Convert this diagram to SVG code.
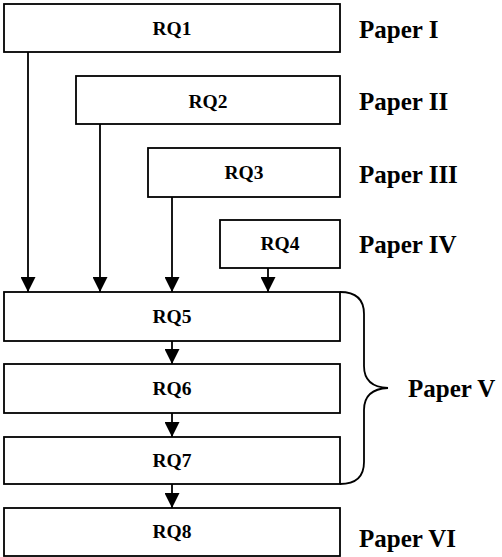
<svg xmlns="http://www.w3.org/2000/svg" width="502" height="557" viewBox="0 0 502 557">
<style>
.box{fill:#fff;stroke:#000;stroke-width:1.8}
.rq{font-family:"Liberation Serif","Times New Roman",serif;font-weight:bold;font-size:19.5px;text-anchor:middle;fill:#000}
.pp{font-family:"Liberation Serif","Times New Roman",serif;font-weight:bold;font-size:25px;fill:#000}
.ln{fill:none;stroke:#000;stroke-width:1.8}
</style>
<defs>
<marker id="ah" viewBox="0 0 15 15" refX="15" refY="7.5" markerWidth="15" markerHeight="15" markerUnits="userSpaceOnUse" orient="auto">
<path d="M0,0 L15,7.5 L0,15 Z" fill="#000"/>
</marker>
</defs>
<rect width="502" height="557" fill="#fff"/>
<g id="connectors">
<line class="ln" x1="28" y1="52" x2="28" y2="292" marker-end="url(#ah)"/>
<line class="ln" x1="100" y1="124" x2="100" y2="292" marker-end="url(#ah)"/>
<line class="ln" x1="172" y1="197" x2="172" y2="292" marker-end="url(#ah)"/>
<line class="ln" x1="268" y1="268" x2="268" y2="292" marker-end="url(#ah)"/>
<line class="ln" x1="172" y1="341" x2="172" y2="364" marker-end="url(#ah)"/>
<line class="ln" x1="172" y1="413" x2="172" y2="437" marker-end="url(#ah)"/>
<line class="ln" x1="172" y1="484" x2="172" y2="508" marker-end="url(#ah)"/>
<path id="brace" class="ln" d="M340,292 Q364,292 364,314 L364,366 Q364,387 388,388 Q364,389 364,410 L364,462 Q364,484 340,484"/>
</g>
<g id="rq1"><rect class="box" x="4" y="4" width="336" height="48"/><text class="rq" x="172" y="35">RQ1</text></g>
<g id="rq2"><rect class="box" x="76" y="76" width="264" height="48"/><text class="rq" x="208" y="108">RQ2</text></g>
<g id="rq3"><rect class="box" x="148" y="148" width="192" height="49"/><text class="rq" x="244" y="179">RQ3</text></g>
<g id="rq4"><rect class="box" x="220" y="220" width="120" height="48"/><text class="rq" x="280" y="250">RQ4</text></g>
<g id="rq5"><rect class="box" x="4" y="292" width="336" height="49"/><text class="rq" x="172" y="323">RQ5</text></g>
<g id="rq6"><rect class="box" x="4" y="364" width="336" height="49"/><text class="rq" x="172" y="395">RQ6</text></g>
<g id="rq7"><rect class="box" x="4" y="437" width="336" height="47"/><text class="rq" x="172" y="467">RQ7</text></g>
<g id="rq8"><rect class="box" x="4" y="508" width="336" height="48"/><text class="rq" x="172" y="538">RQ8</text></g>
<g id="papers">
<text class="pp" x="359" y="38">Paper I</text>
<text class="pp" x="359" y="110">Paper II</text>
<text class="pp" x="359" y="183">Paper III</text>
<text class="pp" x="359" y="253">Paper IV</text>
<text class="pp" x="408" y="397">Paper V</text>
<text class="pp" x="359" y="547">Paper VI</text>
</g>
</svg>
